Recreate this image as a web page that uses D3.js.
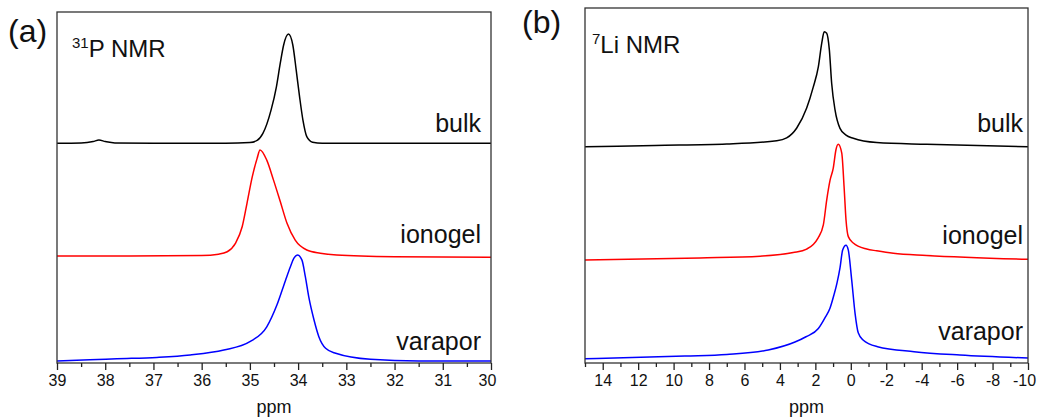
<!DOCTYPE html>
<html>
<head>
<meta charset="utf-8">
<script src="https://cdn.jsdelivr.net/npm/d3@7"></script>
<style>
  body { margin: 0; background: #fff; }
  svg text { font-family: "Liberation Sans", Arial, sans-serif; fill: #111; }
</style>
</head>
<body>
<svg id="chart" width="1038" height="418"></svg>
<script>
// [ppm, intensity (a.u., stacked)]
var pBulk = [
  [39.0, 62.6], [38.5, 62.7], [38.25, 63.1], [38.13, 63.5], [38.0, 63.1], [37.8, 62.7],
  [37.0, 62.6], [35.5, 62.6], [35.0, 62.8], [34.85, 63.4], [34.73, 65.4], [34.56, 72.1], [34.45, 78.7],
  [34.37, 85.4], [34.3, 90.6], [34.2, 93.7], [34.11, 90.6], [34.04, 83.5], [33.97, 75.9],
  [33.9, 69.2], [33.82, 64.5], [33.7, 62.9], [33.5, 62.6], [30.0, 62.6]
];
var pIonogel = [
  [39.0, 30.5], [37.5, 30.5], [36.0, 30.6], [35.65, 31.0], [35.47, 31.7], [35.3, 34.1], [35.16, 38.8],
  [35.06, 45.5], [34.95, 53.1], [34.85, 58.3], [34.79, 60.7], [34.65, 57.8], [34.51, 52.1],
  [34.37, 46.0], [34.23, 39.8], [34.06, 35.0], [33.82, 32.2], [33.54, 31.3], [33.2, 30.8],
  [32.0, 30.3], [30.0, 30.1]
];
var pVarapor = [
  [39.0, 0.6], [38.32, 0.9], [37.76, 1.2], [36.93, 1.6], [36.24, 2.28], [35.54, 3.7],
  [35.0, 6.07], [34.65, 10.3], [34.44, 16.5], [34.26, 23.6], [34.16, 27.4], [34.09, 29.8],
  [34.01, 30.8], [33.92, 29.3], [33.85, 24.6], [33.78, 18.9], [33.67, 12.25], [33.57, 7.5],
  [33.43, 4.2], [33.22, 2.76], [32.5, 1.05], [31.5, 0.6], [30.0, 0.6]
];

var liBulk = [
  [15.0, 60.9], [11.05, 61.3], [7.0, 61.7], [4.18, 62.6], [3.62, 63.4], [3.05, 66.2],
  [2.49, 71.8], [2.12, 77.7], [1.83, 83.5], [1.64, 90.1], [1.5, 93.3], [1.36, 92.9],
  [1.21, 88.2], [1.08, 78.8], [0.89, 71.3], [0.61, 66.1], [0.27, 64.2], [-0.14, 63.3],
  [-1.46, 62.1], [-4.28, 61.6], [-10.0, 60.9]
];
var liIonogel = [
  [15.0, 29.0], [8.51, 29.6], [5.12, 30.1], [3.25, 31.1], [2.49, 32.1], [2.12, 33.4],
  [1.85, 35.2], [1.55, 38.9], [1.36, 45.9], [1.17, 51.5], [0.99, 54.9], [0.84, 60.0],
  [0.71, 61.6], [0.51, 59.1], [0.38, 49.7], [0.27, 40.3], [0.14, 35.6], [-0.14, 33.8],
  [-0.9, 32.1], [-1.46, 31.6], [-2.4, 30.9], [-4.28, 30.3], [-10.0, 29.2]
];
var liVarapor = [
  [15.0, 1.18], [9.36, 1.97], [7.0, 2.39], [4.66, 3.66], [3.15, 5.9], [2.53, 7.4],
  [1.83, 9.7], [1.46, 12.7], [1.17, 15.5], [0.95, 19.2], [0.78, 22.5], [0.61, 26.8],
  [0.46, 31.8], [0.27, 33.2], [0.14, 31.8], [-0.05, 23.4], [-0.24, 14.0], [-0.42, 8.5],
  [-0.69, 6.5], [-1.51, 4.6], [-3.57, 3.2], [-6.16, 2.25], [-10.0, 1.4]
];

var sampleNames = ['bulk', 'ionogel', 'varapor'];
var sampleColors = ['#000000', '#ff0000', '#0000ff'];

var pMajor = [39, 38, 37, 36, 35, 34, 33, 32, 31, 30];
var pMinor = [38.5, 37.5, 36.5, 35.5, 34.5, 33.5, 32.5, 31.5, 30.5];
var liMajor = [14, 12, 10, 8, 6, 4, 2, 0, -2, -4, -6, -8, -10];
var liMinor = [15, 13, 11, 9, 7, 5, 3, 1, -1, -3, -5, -7, -9];

var svg = d3.select('#chart');

var panels = [
  {
    tag: '(a)', nucleus: '31', title: 'P NMR',
    left: 57, right: 491, top: 12, bottom: 363,
    domain: [39, 30], major: pMajor, minor: pMinor,
    series: [pBulk, pIonogel, pVarapor],
    labelY: [132, 243, 350], labelX: 481,
    tagX: 8, tagY: 42, titleX: 72
  },
  {
    tag: '(b)', nucleus: '7', title: 'Li NMR',
    left: 585, right: 1028, top: 8, bottom: 363,
    domain: [15, -10], major: liMajor, minor: liMinor,
    series: [liBulk, liIonogel, liVarapor],
    labelY: [132, 244, 340], labelX: 1023,
    tagX: 522, tagY: 33, titleX: 592
  }
];

panels.forEach(function(p) {
  var x = d3.scaleLinear().domain(p.domain).range([p.left, p.right]);
  var y = d3.scaleLinear().domain([0, 100]).range([p.bottom, p.top]);
  var g = svg.append('g');

  var line = d3.line()
    .x(function(d) { return x(d[0]); })
    .y(function(d) { return y(d[1]); })
    .curve(d3.curveMonotoneX);

  g.selectAll('.spec')
    .data(p.series)
    .enter().append('path')
    .attr('class', 'spec')
    .attr('fill', 'none')
    .attr('stroke', function(d, i) { return sampleColors[i]; })
    .attr('stroke-width', 1.5)
    .attr('stroke-linejoin', 'round')
    .attr('d', line);

  // frame
  g.append('rect')
    .attr('x', p.left).attr('y', p.top)
    .attr('width', p.right - p.left).attr('height', p.bottom - p.top)
    .attr('fill', 'none').attr('stroke', '#333').attr('stroke-width', 1.3);

  var axis = g.append('g')
    .attr('transform', 'translate(0,' + p.bottom + ')')
    .call(d3.axisBottom(x).tickValues(p.major).tickSize(7).tickPadding(5)
      .tickFormat(function(d) { return String(d); }));
  axis.select('.domain').remove();
  axis.selectAll('line').attr('stroke', '#222').attr('stroke-width', 1.3);
  axis.selectAll('text').attr('font-size', 16).attr('fill', '#111')
    .attr('font-family', '"Liberation Sans", Arial, sans-serif');
  // keep the last label inside the picture
  axis.selectAll('.tick:last-of-type text').attr('dx', -4);

  var minorAxis = g.append('g')
    .attr('transform', 'translate(0,' + p.bottom + ')')
    .call(d3.axisBottom(x).tickValues(p.minor).tickSize(4).tickFormat(''));
  minorAxis.select('.domain').remove();
  minorAxis.selectAll('line').attr('stroke', '#222').attr('stroke-width', 1.3);

  g.append('text')
    .attr('x', (p.left + p.right) / 2).attr('y', 413)
    .attr('text-anchor', 'middle').attr('font-size', 18)
    .text('ppm');

  g.append('text')
    .attr('x', p.tagX).attr('y', p.tagY)
    .attr('font-size', 32)
    .text(p.tag);

  var t = g.append('text')
    .attr('x', p.titleX).attr('y', p.top + 45)
    .attr('font-size', 24);
  t.append('tspan').attr('font-size', 15).attr('dy', -9).text(p.nucleus);
  t.append('tspan').attr('dy', 9).text(p.title);

  g.selectAll('.lab')
    .data(sampleNames)
    .enter().append('text')
    .attr('class', 'lab')
    .attr('x', p.labelX)
    .attr('y', function(d, i) { return p.labelY[i]; })
    .attr('text-anchor', 'end')
    .attr('font-size', 25)
    .text(function(d) { return d; });
});
</script>
</body>
</html>
